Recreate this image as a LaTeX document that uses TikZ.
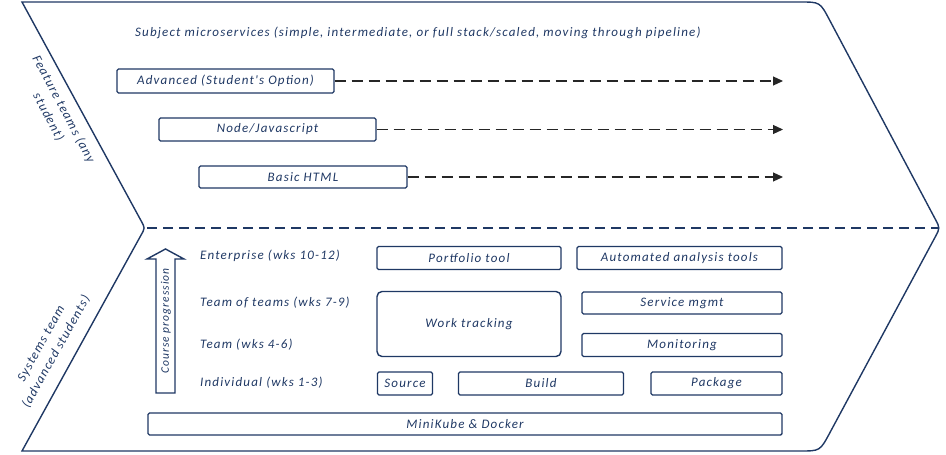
\documentclass[tikz,border=0pt]{standalone}
\usepackage{fontspec}
\setmainfont{Carlito}
\newfontfamily\sk[LetterSpace=9]{Carlito}
\usetikzlibrary{arrows.meta}
\definecolor{navy}{RGB}{31,56,100}
\begin{document}
\begin{tikzpicture}[x=1pt,y=-1pt,
  txt/.style={font=\sk\itshape\fontsize{13}{17}\selectfont, text=navy, inner sep=0pt},
  small/.style={font=\sk\itshape\fontsize{11.5}{13}\selectfont, text=navy, inner sep=0pt},
  box/.style={txt, draw=navy, line width=1.4pt, fill=white, rounded corners=1.5pt},
  flow/.style={draw=black!85, line width=1.2pt, dash pattern=on 11pt off 6pt,
    -{Triangle[length=10pt,width=9pt]}},
  outline/.style={draw=navy, line width=1.4pt},
  sep/.style={draw=navy, line width=1.3pt, dash pattern=on 10pt off 6pt},
]
\useasboundingbox (0,0) rectangle (946,455);

% chevron outline
\draw[outline] (22,2) -- (800,2) .. controls (820,2) .. (829.4,19.7)
  -- (935.3,219.2) .. controls (940,228) .. (935.3,236.8)
  -- (829.5,433.4) .. controls (820,451) .. (800,451)
  -- (22,451) -- (141.1,235) .. controls (145,228) .. (141.2,221) -- cycle;

% separator
\coordinate (sepL) at (147,228);
\coordinate (sepR) at (939,228);
\draw[sep] (sepL) -- (sepR);

% upper part
\node[txt, anchor=west] (subj) at (135,33)
  {Subject microservices (simple, intermediate, or full stack/scaled, moving through pipeline)};
\node[txt, rotate=-62, align=center] (ft) at (56,113) {Feature teams (any\\student)};

\node[box, minimum width=217pt, minimum height=24pt] (adv) at (225.5,81) {Advanced (Student's Option)};
\node[box, minimum width=217pt, minimum height=23pt] (node) at (267.5,129.5) {Node/Javascript};
\node[box, minimum width=208pt, minimum height=22pt] (html) at (303,177) {Basic HTML};

\coordinate (e1) at (783,81);
\coordinate (e2) at (783,129.5);
\coordinate (e3) at (783,177);
\draw[flow] (adv.east) -- (e1);
\draw[flow] (node.east) -- (e2);
\draw[flow] (html.east) -- (e3);

% lower part
\node[txt, rotate=61, align=center] (st) at (49,348) {Systems team\\(advanced students)};

\draw[navy, line width=1.4pt, fill=white] (156,393) -- (156,259) -- (147,259) -- (165.5,249)
  -- (184,259) -- (175,259) -- (175,393) -- cycle;
\node[small, rotate=90] (cp) at (166,321) {Course progression};

\node[txt, anchor=west] (ent) at (200,256) {Enterprise (wks 10-12)};
\node[txt, anchor=west] (tot) at (200,303) {Team of teams (wks 7-9)};
\node[txt, anchor=west] (team) at (200,345) {Team (wks 4-6)};
\node[txt, anchor=west] (ind) at (200,383) {Individual (wks 1-3)};

\node[box, minimum width=184pt, minimum height=23pt] (port) at (469,258) {Portfolio tool};
\node[box, minimum width=205pt, minimum height=23pt] (auto) at (679.5,258) {Automated analysis tools};
\node[box, minimum width=184pt, minimum height=65pt, rounded corners=5pt] (work) at (469,324) {Work tracking};
\node[box, minimum width=200pt, minimum height=22pt] (serv) at (682,303) {Service mgmt};
\node[box, minimum width=200pt, minimum height=23pt] (mon) at (682,345) {Monitoring};
\node[box, minimum width=55pt, minimum height=23pt] (src) at (405,383.5) {Source};
\node[box, minimum width=165pt, minimum height=23pt] (build) at (541,383.5) {Build};
\node[box, minimum width=131pt, minimum height=23pt] (pkg) at (716.5,383.5) {Package};
\node[box, minimum width=634pt, minimum height=22pt] (mk) at (465,424) {MiniKube \& Docker};
\end{tikzpicture}
\end{document}
